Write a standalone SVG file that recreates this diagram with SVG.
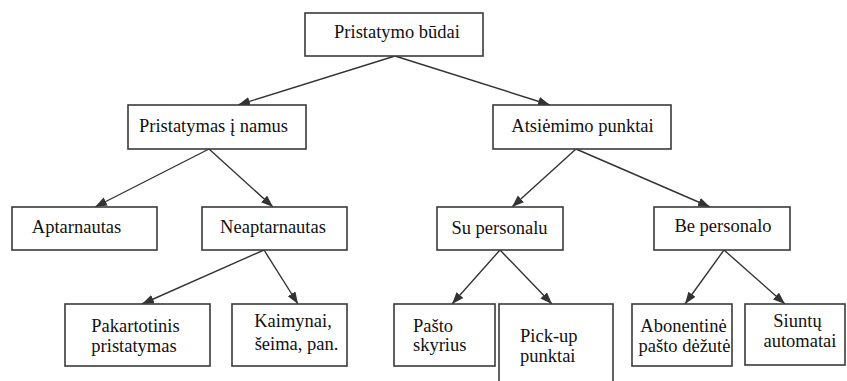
<svg xmlns="http://www.w3.org/2000/svg" width="847" height="381" viewBox="0 0 847 381">
<defs>
<style>
.box{fill:#fff;stroke:#3a3a3a;stroke-width:1.6}
.lbl{font-family:"Liberation Serif","Times New Roman",Tinos,"Noto Serif","DejaVu Serif",FreeSerif,Times,serif;font-size:18.5px;fill:#111}
.c{text-anchor:middle}
.edge{stroke:#333;stroke-width:1.4;fill:none;marker-end:url(#arr)}
</style>
<marker id="arr" markerUnits="userSpaceOnUse" markerWidth="13" markerHeight="10" refX="12" refY="4.5" orient="auto">
<path d="M0,0 L12,4.5 L0,9 z" fill="#333"/>
</marker>
</defs>
<rect width="847" height="381" fill="#fff"/>
<g id="connectors">
<path class="edge" d="M395,56 L238,105"/>
<path class="edge" d="M395,56 L550,105"/>
<path class="edge" d="M209,149 L95,207"/>
<path class="edge" d="M209,149 L273,207"/>
<path class="edge" d="M576,149 L512,207"/>
<path class="edge" d="M576,149 L710,207"/>
<path class="edge" d="M264,250 L142,304"/>
<path class="edge" d="M264,250 L298,304"/>
<path class="edge" d="M500,250 L452,304"/>
<path class="edge" d="M500,250 L552,304"/>
<path class="edge" d="M724,250 L685,304"/>
<path class="edge" d="M724,250 L785,304"/>
</g>
<g id="root">
<rect class="box" x="305" y="13" width="178" height="43"/>
<text class="lbl c" x="397" y="38">Pristatymo būdai</text>
</g>
<g id="pristatymas-i-namus">
<rect class="box" x="128" y="105" width="178" height="44"/>
<text class="lbl c" x="213.5" y="132">Pristatymas į namus</text>
</g>
<g id="atsiemimo-punktai">
<rect class="box" x="493" y="105" width="178" height="44"/>
<text class="lbl c" x="582.5" y="132">Atsiėmimo punktai</text>
</g>
<g id="aptarnautas">
<rect class="box" x="12" y="207" width="145" height="43"/>
<text class="lbl c" x="76.5" y="233">Aptarnautas</text>
</g>
<g id="neaptarnautas">
<rect class="box" x="202" y="207" width="145" height="43"/>
<text class="lbl c" x="273" y="233">Neaptarnautas</text>
</g>
<g id="su-personalu">
<rect class="box" x="437" y="207" width="126" height="43"/>
<text class="lbl c" x="499.5" y="234">Su personalu</text>
</g>
<g id="be-personalo">
<rect class="box" x="654" y="207" width="136" height="43"/>
<text class="lbl c" x="723" y="232">Be personalo</text>
</g>
<g id="pakartotinis">
<rect class="box" x="65" y="304" width="145" height="62"/>
<text class="lbl c" x="135.5" y="332">Pakartotinis</text>
<text class="lbl c" x="134" y="352">pristatymas</text>
</g>
<g id="kaimynai">
<rect class="box" x="232" y="304" width="115" height="62"/>
<text class="lbl c" x="293" y="327">Kaimynai,</text>
<text class="lbl c" x="296.5" y="350">šeima, pan.</text>
</g>
<g id="pasto-skyrius">
<rect class="box" x="394" y="304" width="101" height="62"/>
<text class="lbl" x="413" y="332">Pašto</text>
<text class="lbl" x="413" y="351">skyrius</text>
</g>
<g id="pick-up">
<rect class="box" x="499" y="304" width="114" height="90"/>
<text class="lbl" x="520" y="342">Pick-up</text>
<text class="lbl" x="520" y="362">punktai</text>
</g>
<g id="abonentine">
<rect class="box" x="632" y="304" width="100" height="62"/>
<text class="lbl c" x="683.5" y="332">Abonentinė</text>
<text class="lbl c" x="684.5" y="352">pašto dėžutė</text>
</g>
<g id="siuntu-automatai">
<rect class="box" x="745" y="304" width="100" height="61"/>
<text class="lbl c" x="797.5" y="327">Siuntų</text>
<text class="lbl c" x="800" y="347">automatai</text>
</g>
</svg>
